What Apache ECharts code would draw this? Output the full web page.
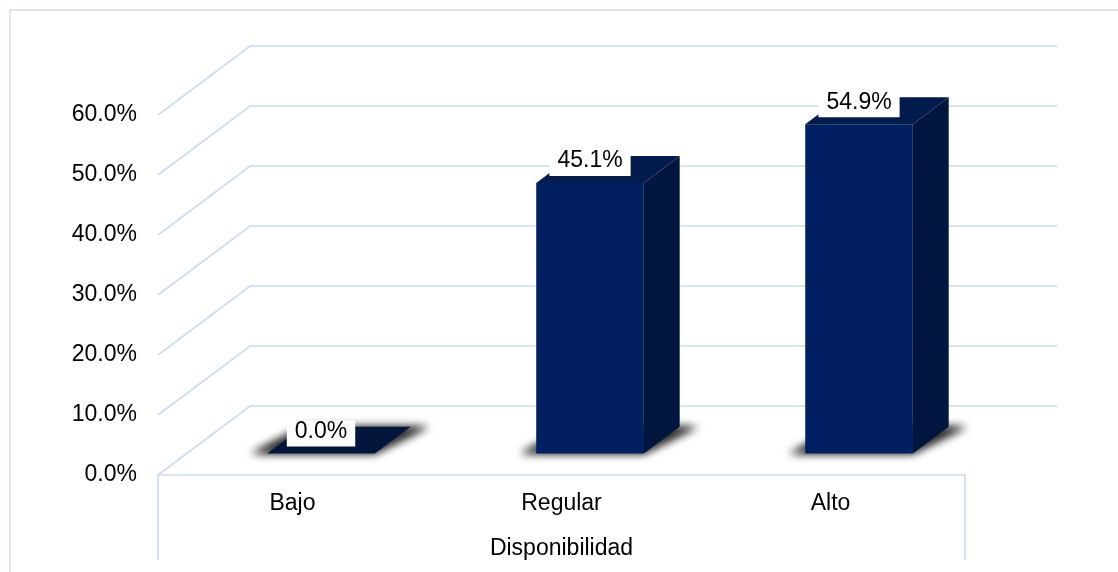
<!DOCTYPE html>
<html>
<head>
<meta charset="utf-8">
<script src="https://cdn.jsdelivr.net/npm/echarts@6/dist/echarts.min.js"></script>
<style>
html,body{margin:0;padding:0;background:#fff;}
#chart{width:1118px;height:572px;}
</style>
</head>
<body>
<div id="chart"></div>
<script>
// ---- data ----
const categories = ['Bajo', 'Regular', 'Alto'];
const values = [0.0, 45.1, 54.9];
const yTicks = [0, 10, 20, 30, 40, 50, 60];
const axisTitle = 'Disponibilidad';

// ---- style constants ----
const FONT = "'Liberation Sans', Arial, sans-serif";
const FS = 23;
const GRID_COLOR = '#CCDBEF';
const DX = 92, DY = -69;           // depth of the 3D box
const F0 = 0.31, F1 = 0.70;        // bar depth position (fraction)
const BAR_W = 0.4;                 // bar width as fraction of band
const FRONT = '#022061', SIDE = '#01163F', TOP = '#021A4C';

const chart = echarts.init(document.getElementById('chart'), null, {renderer: 'canvas'});

function wallItem(params, api) {
  const cs = params.coordSys;
  const v = api.value(1);
  const y = api.coord([0, v])[1];
  const L = cs.x, R = cs.x + cs.width;
  const children = [{
    type: 'polyline',
    shape: {points: [[L, y], [L + DX, y + DY], [R + DX, y + DY]]},
    style: {stroke: GRID_COLOR, lineWidth: 1.6, fill: null}
  }];
  if (v === 0) {
    children.push({
      type: 'polyline',
      shape: {points: [[L, y + 85], [L, y], [R, y], [R, y + 85]]},
      style: {stroke: GRID_COLOR, lineWidth: 1.6, fill: null}
    });
  }
  return {type: 'group', children: children};
}

function barItem(params, api) {
  const i = api.value(0), v = api.value(1);
  const c0 = api.coord([i, 0]);
  const c1 = api.coord([i, v]);
  const band = api.size([1, 0])[0];
  const w = band * BAR_W;
  const x0 = c0[0] - w / 2 + DX * F0, x1 = x0 + w;
  const yb = c0[1] + DY * F0, yt = c1[1] + DY * F0;
  const ddx = DX * (F1 - F0), ddy = DY * (F1 - F0);
  const OFF = 3000;
  const children = [];
  // soft floor shadow (only the blurred shadow is visible)
  const shadowPts = [[x0 - 16, yb], [x1, yb], [x1 + ddx + 18, yb + ddy], [x0 + ddx, yb + ddy]];
  for (let k = 0; k < 2; k++) {
    children.push({
      type: 'polygon',
      shape: {points: shadowPts.map(p => [p[0] - OFF, p[1]])},
      style: {fill: '#000', shadowBlur: 8, shadowColor: 'rgba(0,0,0,0.6)', shadowOffsetX: OFF, shadowOffsetY: 0}
    });
  }
  if (yb - yt > 0.5) {
    children.push({type: 'rect', shape: {x: x0, y: yt, width: w, height: yb - yt}, style: {fill: FRONT}});
    children.push({
      type: 'polygon',
      shape: {points: [[x1, yt], [x1 + ddx, yt + ddy], [x1 + ddx, yb + ddy], [x1, yb]]},
      style: {fill: SIDE}
    });
  }
  children.push({
    type: 'polygon',
    shape: {points: [[x0, yt], [x1, yt], [x1 + ddx, yt + ddy], [x0 + ddx, yt + ddy]]},
    style: {fill: yb - yt > 0.5 ? TOP : '#01163A'}
  });
  children.push({
    type: 'text',
    style: {
      text: v.toFixed(1) + '%',
      x: x0 + w / 2, y: yt - 7,
      align: 'center', verticalAlign: 'bottom',
      font: FS + 'px ' + FONT, fill: '#000',
      backgroundColor: '#fff', padding: [0, 8, 4, 8], lineHeight: 22
    }
  });
  return {type: 'group', children: children};
}

chart.setOption({
  animation: false,
  backgroundColor: '#fff',
  graphic: [{
    type: 'rect', silent: true, z: -10,
    shape: {x: 10, y: 10, width: 1400, height: 900},
    style: {fill: null, stroke: '#D2DDF0', lineWidth: 1.5}
  }],
  grid: {left: 158, right: 153, top: 115, bottom: 97, containLabel: false},
  xAxis: {
    type: 'category', data: categories,
    axisLine: {show: false}, axisTick: {show: false},
    axisLabel: {fontSize: FS, color: '#000', fontFamily: FONT, margin: 17},
    name: axisTitle, nameLocation: 'middle', nameGap: 62,
    nameTextStyle: {fontSize: FS, color: '#000', fontFamily: FONT}
  },
  yAxis: {
    type: 'value', min: 0, max: 60, interval: 10,
    axisLine: {show: false}, axisTick: {show: false}, splitLine: {show: false},
    axisLabel: {fontSize: FS, color: '#000', fontFamily: FONT, margin: 21,
      formatter: v => v.toFixed(1) + '%'}
  },
  series: [{
    type: 'custom', name: 'walls', silent: true, z: 1,
    renderItem: wallItem, clip: false,
    encode: {x: 0, y: 1},
    data: yTicks.map(t => [0, t])
  }, {
    type: 'custom', name: 'bars', z: 5,
    renderItem: barItem, clip: false,
    encode: {x: 0, y: 1},
    data: values.map((v, i) => [i, v])
  }]
});
</script>
</body>
</html>
